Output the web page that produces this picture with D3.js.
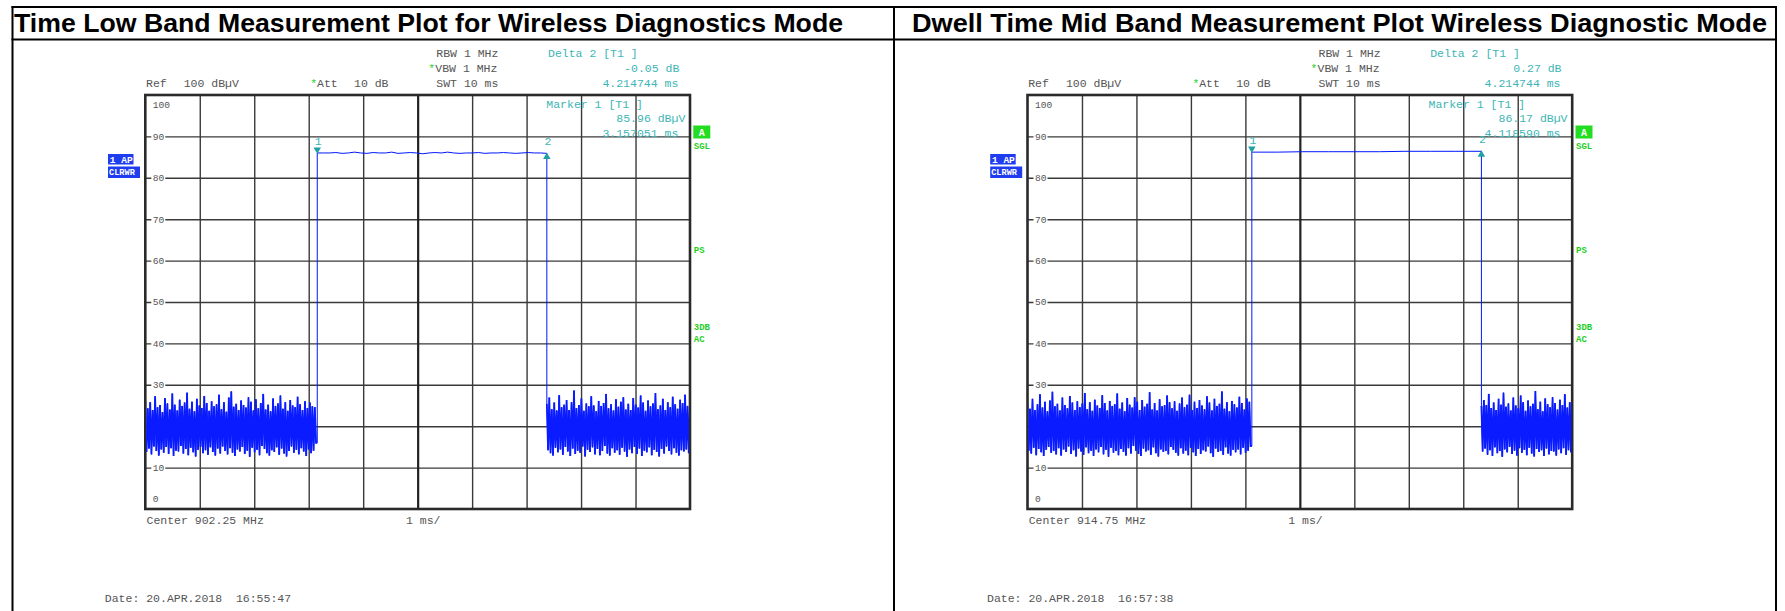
<!DOCTYPE html>
<html><head><meta charset="utf-8">
<script src="https://cdn.jsdelivr.net/npm/d3@7"></script>
<style>
html,body{margin:0;padding:0;background:#fff;}
svg{display:block;}
text{white-space:pre;}
</style></head><body>
<svg id="c" width="1785" height="611"></svg>
<script>
// ---------------- data ----------------
const titles = ["Time Low Band Measurement Plot for Wireless Diagnostics Mode",
                "Dwell Time Mid Band Measurement Plot Wireless Diagnostic Mode"];
const centerLabels = ["Center 902.25 MHz", "Center 914.75 MHz"];
const dateLabels = ["Date: 20.APR.2018  16:55:47", "Date: 20.APR.2018  16:57:38"];
const deltaDb = [-0.05, 0.27];
const deltaTimeMs = [4.214744, 4.214744];
const marker1Level = [85.96, 86.17];
const marker1TimeMs = [3.157051, 4.118590];
const yTicks = [100, 90, 80, 70, 60, 50, 40, 30, 20, 10, 0];
const xTicks = [0, 1, 2, 3, 4, 5, 6, 7, 8, 9, 10];
const sweepMs = 10;

// noise before the burst (peak / valley per sweep step), low band
const lowPreHi = [26.1,24.3,25.8,23.9,27.2,24.6,25.1,23.4,26.8,25.5,24.0,27.9,25.2,23.8,26.4,24.9,25.7,28.1,24.2,25.9,23.6,26.6,25.0,24.4,27.3,25.6,23.7,26.0,24.8,25.3,27.6,24.1,25.8,23.5,26.9,28.4,24.7,25.4,23.9,26.2,25.1,24.5,27.0,25.9,23.8,26.5,24.3,25.6,27.8,24.0,25.2,23.6,26.7,24.9,25.5,27.4,24.2,25.8,23.7,26.3,25.0,24.6,27.1,25.3,23.9,26.0,24.4,25.7,24.8,24.6];
const lowPreLo = [13.8,14.6,13.2,15.1,14.0,12.9,14.4,13.6,15.0,13.3,14.7,12.8,14.1,13.9,15.2,13.4,14.5,13.0,14.8,13.7,12.7,14.3,15.0,13.5,14.2,13.1,14.9,13.8,12.9,14.6,13.4,15.1,14.0,13.2,14.7,13.6,12.8,14.4,13.9,15.0,13.3,14.1,12.6,14.8,13.7,14.3,13.0,15.2,14.5,13.5,12.9,14.2,13.8,14.9,13.1,14.6,13.4,12.7,14.0,15.1,13.6,14.3,13.2,14.7,13.9,12.8,14.4,13.5,14.1,16.0];
const lowBurst = [86.0,86.0,86.0,86.1,85.9,86.0,86.2,86.0,85.9,86.1,86.0,86.0,86.2,85.9,86.0,86.1,86.0,85.8,86.0,86.1,86.0,86.2,86.0,85.9,86.0,86.0,86.1,85.9,86.0,86.0,86.1,86.0,85.9,86.0,86.1,86.0,86.0,85.9];
const lowPostHi = [25.4,26.9,24.1,25.7,23.8,27.5,24.6,25.2,26.3,23.9,25.8,28.6,24.4,25.1,26.7,23.7,25.5,24.8,27.2,25.0,23.6,26.1,24.9,25.6,27.8,24.3,25.3,23.8,26.5,24.7,25.9,27.0,24.0,25.4,23.9,26.8,25.2,24.5,27.4,25.7,23.7,26.2,24.8,25.5,28.0,24.1,25.0,26.6,23.9,25.8,24.6,27.1,25.3,24.2,26.4,25.6,27.6,24.9];
const lowPostLo = [14.2,13.5,12.9,14.8,13.7,14.4,13.1,15.0,13.9,12.8,14.6,13.3,14.1,13.6,15.1,12.7,14.3,13.8,14.9,13.2,14.5,13.0,14.0,15.2,13.4,12.9,14.7,13.6,14.2,13.1,14.8,13.9,12.6,14.4,13.5,15.0,13.3,14.6,12.8,14.1,13.7,14.9,13.0,14.3,13.8,12.7,14.5,13.4,15.1,14.0,13.2,14.7,13.6,12.9,14.2,13.9,14.4,13.5];

// mid band
const midPreHi = [25.8,24.2,26.6,23.9,25.3,27.7,24.5,25.9,23.6,26.2,28.3,24.8,25.4,23.8,26.9,25.1,24.3,27.3,25.7,23.9,26.0,24.6,25.5,28.0,24.1,25.8,23.7,26.4,25.0,24.4,27.5,25.6,23.8,26.1,24.9,25.3,27.9,24.2,25.7,23.6,26.8,25.2,24.5,27.0,25.9,23.9,26.3,24.7,25.4,28.2,24.0,25.6,23.8,26.5,24.8,25.1,27.4,25.8,24.3,26.0,23.7,25.5,26.9,24.6,25.2,27.6,23.9,25.9,24.4,26.3,25.0,24.1,27.2,25.7,23.8,26.6,24.9,25.4,28.4,24.2,25.8,23.6,26.1,25.3,24.5,27.1,25.6,24.0,26.7,25.9];
const midPreLo = [14.1,13.4,14.8,13.0,14.5,13.7,12.8,14.3,15.0,13.6,14.0,13.2,14.7,12.9,14.4,13.8,15.1,13.3,14.2,12.7,14.6,13.9,13.1,14.9,13.5,14.1,12.8,14.4,13.7,15.0,13.2,14.3,12.6,14.8,13.6,14.0,13.0,14.5,13.8,12.9,14.7,13.4,15.2,14.1,13.3,12.8,14.6,13.9,14.2,13.1,14.9,13.5,12.7,14.4,13.8,14.0,13.2,15.0,14.3,13.6,12.9,14.7,13.4,14.1,13.0,14.8,13.7,12.8,14.5,13.3,14.2,13.9,15.1,13.5,12.6,14.6,13.8,14.0,13.1,14.9,13.4,12.9,14.3,13.7,14.4,13.2,14.8,13.6,14.1,15.2];
const midBurst = [86.2,86.2,86.3,86.3,86.3,86.3,86.4,86.4,86.4,86.4];
const midPostHi = [24.9,26.3,25.1,27.8,24.4,25.7,23.9,26.6,25.2,28.1,24.7,25.5,23.8,26.9,25.0,24.3,27.4,25.8,23.7,26.2,24.8,25.4,28.5,24.1,25.9,23.6,26.7,25.3,24.6,27.0,25.6,24.0,26.4,25.1,27.7,24.5,25.8];
const midPostLo = [13.9,14.6,13.1,14.2,12.8,14.9,13.5,14.0,12.6,14.4,13.7,15.0,13.3,14.1,12.9,14.7,13.6,14.3,13.0,14.8,13.4,12.7,14.5,13.8,14.2,12.8,14.6,13.2,14.0,13.9,12.9,14.4,13.5,14.7,13.1,14.2,13.7];

const preHi = [lowPreHi, midPreHi], preLo = [lowPreLo, midPreLo];
const bursts = [lowBurst, midBurst];
const postHi = [lowPostHi, midPostHi], postLo = [lowPostLo, midPostLo];

// ---------------- layout ----------------
const svg = d3.select("#c");
const MONO = "'Liberation Mono','DejaVu Sans Mono',monospace";
const GRAY = "#555", TEAL = "#3db5b5", GREEN = "#1fcf1f", BLUE = "#1f3cf0";
const frameLefts = [145.3, 1027.5];
const frameW = 544.7, frameTop = 95, frameBottom = 509;
const titleX = [14, 912], titleLen = [829, 855];

// outer box
const box = svg.append("g").attr("stroke", "#000").attr("stroke-width", 2).attr("fill", "none");
box.append("line").attr("x1", 11.5).attr("x2", 1777).attr("y1", 7).attr("y2", 7);
box.append("line").attr("x1", 11.5).attr("x2", 1777).attr("y1", 39.5).attr("y2", 39.5);
box.append("line").attr("x1", 12.5).attr("x2", 12.5).attr("y1", 6).attr("y2", 611);
box.append("line").attr("x1", 894).attr("x2", 894).attr("y1", 6).attr("y2", 611);
box.append("line").attr("x1", 1776).attr("x2", 1776).attr("y1", 6).attr("y2", 611);

function txt(g, x, y, s, opts = {}) {
  return g.append("text").attr("x", x).attr("y", y).attr("dy", "0.35em")
    .attr("font-family", opts.family || MONO)
    .attr("font-size", opts.size || 11.5)
    .attr("font-weight", opts.weight || "normal")
    .attr("fill", opts.fill || GRAY)
    .attr("text-anchor", opts.anchor || "start")
    .text(s);
}

titles.forEach((t, i) => {
  svg.append("text").attr("x", titleX[i]).attr("y", 32)
    .attr("font-family", "'Liberation Sans',Arial,sans-serif")
    .attr("font-weight", "bold").attr("font-size", 25)
    .attr("textLength", titleLen[i]).attr("lengthAdjust", "spacingAndGlyphs")
    .attr("fill", "#000").text(t);
});

[0, 1].forEach(i => {
  const FL = frameLefts[i], FR = FL + frameW;
  const x = d3.scaleLinear().domain([0, sweepMs]).range([FL, FR]);
  const y = d3.scaleLinear().domain([0, 100]).range([frameBottom, frameTop]);
  const g = svg.append("g");

  // header
  txt(g, FL + 291, 52.7, "RBW 1 MHz");
  txt(g, FL + 283, 68, "*", {fill: GREEN});
  txt(g, FL + 290, 68, "VBW 1 MHz");
  txt(g, FL + 0.7, 83, "Ref");
  txt(g, FL + 38.4, 83, "100 dBµV");
  txt(g, FL + 165, 83, "*", {fill: GREEN});
  txt(g, FL + 171.7, 83, "Att");
  txt(g, FL + 208.7, 83, "10 dB");
  txt(g, FL + 291, 83, "SWT 10 ms");
  txt(g, FL + 402.7, 52.7, "Delta 2 [T1 ]", {fill: TEAL});
  txt(g, FL + 534, 68, deltaDb[i].toFixed(2) + " dB", {fill: TEAL, anchor: "end"});
  txt(g, FL + 533, 83, deltaTimeMs[i].toFixed(6) + " ms", {fill: TEAL, anchor: "end"});

  // gridlines via axes
  const gy = g.append("g").attr("transform", `translate(${FL},0)`)
    .call(d3.axisLeft(y).tickValues(yTicks.filter(v => v > 0 && v < 100)).tickSize(-frameW).tickFormat(""));
  gy.select(".domain").remove();
  gy.selectAll("line").attr("stroke", "#3a3a3a").attr("stroke-width", 1.4);
  const gx = g.append("g").attr("transform", `translate(0,${frameBottom})`)
    .call(d3.axisBottom(x).tickValues(xTicks.filter(v => v > 0 && v < sweepMs)).tickSize(-(frameBottom - frameTop)).tickFormat(""));
  gx.select(".domain").remove();
  gx.selectAll("line").attr("stroke", d => d === sweepMs / 2 ? "#222" : "#3a3a3a")
    .attr("stroke-width", d => d === sweepMs / 2 ? 2.2 : 1.4);

  // y labels
  yTicks.forEach(v => {
    const yy = v === 100 ? y(v) + 9.5 : v === 0 ? y(v) - 10 : y(v);
    if (v !== 100 && v !== 0) {
      g.append("rect").attr("x", FL + 6).attr("y", yy - 5).attr("width", 14).attr("height", 10).attr("fill", "#fff");
    }
    txt(g, FL + 7.5, yy, String(v), {size: 9.6});
  });

  // frame
  g.append("rect").attr("x", FL).attr("y", frameTop).attr("width", frameW).attr("height", frameBottom - frameTop)
    .attr("fill", "none").attr("stroke", "#2a2a2a").attr("stroke-width", 2.6);

  // trace
  const tRise = marker1TimeMs[i], tFall = marker1TimeMs[i] + deltaTimeMs[i];
  const pre = [], burst = [], post = [];
  const hA = preHi[i], lA = preLo[i];
  const dA = tRise / hA.length;
  hA.forEach((h, k) => { pre.push([k * dA, h]); pre.push([(k + 0.5) * dA, lA[k]]); });
  pre.push([tRise, lA[lA.length - 1]]);
  const b = bursts[i];
  const dP = (tFall - tRise) / (b.length - 1);
  b.forEach((v, k) => burst.push([tRise + k * dP, v]));
  const hB = postHi[i], lB = postLo[i];
  const dB = (sweepMs - tFall) / hB.length;
  hB.forEach((h, k) => { post.push([tFall + k * dB, h]); post.push([tFall + (k + 0.5) * dB, lB[k]]); });
  post.push([sweepMs, hB[hB.length - 1]]);

  const clipId = "clip" + i;
  svg.append("clipPath").attr("id", clipId).append("rect")
    .attr("x", FL + 1).attr("y", frameTop).attr("width", frameW - 2).attr("height", frameBottom - frameTop);
  const line = d3.line().x(d => x(d[0])).y(d => y(d[1]));
  const trace = g.append("g").attr("clip-path", `url(#${clipId})`).attr("fill", "none");
  trace.append("path").attr("d", line(pre.concat(burst, post)))
    .attr("stroke", "#0018ff").attr("stroke-width", 1);
  [pre, post].forEach(seg => {
    trace.append("path").attr("d", line(seg)).attr("stroke", "#0a1cff").attr("stroke-width", 1.8);
  });

  // markers
  const m1x = x(tRise), m1y = y(marker1Level[i]);
  const m2x = x(tFall), m2y = y(marker1Level[i] + deltaDb[i]);
  const tri = d3.symbol(d3.symbolTriangle, 24);
  g.append("path").attr("d", tri()).attr("transform", `translate(${m1x},${m1y - 3.6}) rotate(180)`).attr("fill", "#1f9fa6");
  g.append("path").attr("d", tri()).attr("transform", `translate(${m2x},${m2y + 3.4})`).attr("fill", "#1f9fa6");
  txt(g, m1x + 1, m1y - 12, "1", {fill: TEAL, anchor: "middle"});
  txt(g, m2x + 1, m2y - 12, "2", {fill: TEAL, anchor: "middle"});

  // marker readout in grid
  txt(g, FL + 401, 104, "Marker 1 [T1 ]", {fill: TEAL});
  txt(g, FL + 540, 117.7, marker1Level[i].toFixed(2) + " dBµV", {fill: TEAL, anchor: "end"});
  txt(g, FL + 533, 132.7, marker1TimeMs[i].toFixed(6) + " ms", {fill: TEAL, anchor: "end"});

  // side labels
  g.append("rect").attr("x", FR + 3.3).attr("y", 125.5).attr("width", 17).attr("height", 13).attr("fill", "#22dd22");
  txt(g, FR + 11.8, 132, "A", {fill: "#fff", weight: "bold", size: 10, anchor: "middle"});
  txt(g, FR + 3.8, 146, "SGL", {fill: GREEN, weight: "bold", size: 9});
  txt(g, FR + 3.8, 249.5, "PS", {fill: GREEN, weight: "bold", size: 9});
  txt(g, FR + 3.8, 327, "3DB", {fill: GREEN, weight: "bold", size: 9});
  txt(g, FR + 3.8, 339, "AC", {fill: GREEN, weight: "bold", size: 9});

  g.append("rect").attr("x", FL - 37.3).attr("y", 154).attr("width", 25.5).attr("height", 10.5).attr("fill", BLUE);
  txt(g, FL - 35.5, 159.3, "1 AP", {fill: "#fff", weight: "bold", size: 9.5});
  g.append("rect").attr("x", FL - 37.3).attr("y", 166.5).attr("width", 32).attr("height", 11.5).attr("fill", BLUE);
  txt(g, FL - 36.3, 172.3, "CLRWR", {fill: "#fff", weight: "bold", size: 8.6});

  // bottom
  txt(g, FL + 1.2, 520, centerLabels[i]);
  txt(g, FL + 260.7, 520, "1 ms/");
  txt(g, FL - 40.5, 598, dateLabels[i], {size: 11.5});
});
</script>
</body></html>
